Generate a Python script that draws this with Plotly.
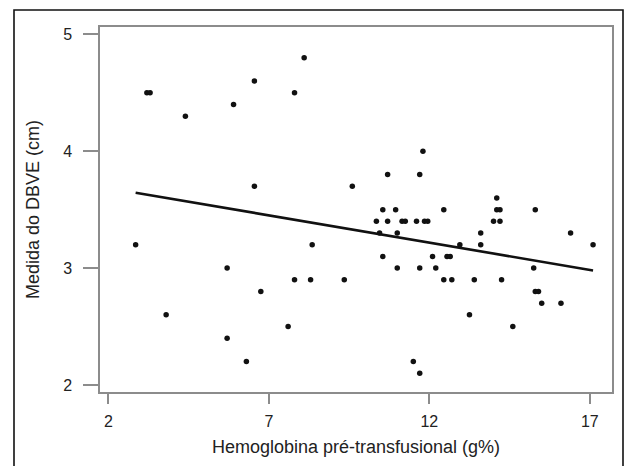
import plotly.graph_objects as go

# Hemoglobina pré-transfusional (g%)
hb = [2.85, 3.2, 3.3, 3.8, 4.4, 5.7, 5.7, 5.9, 6.3, 6.55, 6.55, 6.75, 7.6, 7.8, 7.8,
      8.1, 8.3, 8.35, 9.35, 9.6, 10.35, 10.45, 10.55, 10.55, 10.7, 10.7, 10.95,
      11.0, 11.0, 11.15, 11.25, 11.5, 11.6, 11.7, 11.7, 11.7, 11.8, 11.85, 11.95,
      12.1, 12.2, 12.45, 12.45, 12.55, 12.65, 12.7, 12.95, 13.25, 13.4, 13.6, 13.6,
      14.0, 14.1, 14.1, 14.2, 14.2, 14.25, 14.6, 15.25, 15.3, 15.3, 15.4, 15.5,
      16.1, 16.4, 17.1]
# Medida do DBVE (cm)
dbve = [3.2, 4.5, 4.5, 2.6, 4.3, 3.0, 2.4, 4.4, 2.2, 4.6, 3.7, 2.8, 2.5, 4.5, 2.9,
        4.8, 2.9, 3.2, 2.9, 3.7, 3.4, 3.3, 3.5, 3.1, 3.8, 3.4, 3.5,
        3.3, 3.0, 3.4, 3.4, 2.2, 3.4, 3.8, 3.0, 2.1, 4.0, 3.4, 3.4,
        3.1, 3.0, 3.5, 2.9, 3.1, 3.1, 2.9, 3.2, 2.6, 2.9, 3.3, 3.2,
        3.4, 3.6, 3.5, 3.5, 3.4, 2.9, 2.5, 3.0, 3.5, 2.8, 2.8, 2.7,
        2.7, 3.3, 3.2]

# fitted regression line
fit_x = [2.85, 17.1]
fit_y = [3.645, 2.98]

x_ticks = [2, 7, 12, 17]
y_ticks = [2, 3, 4, 5]

FONT = "Liberation Sans, Arial, sans-serif"
AX = "#8c8c8c"

fig = go.Figure()
fig.add_trace(go.Scatter(x=fit_x, y=fit_y, mode="lines",
                         line=dict(color="#111111", width=2.6), hoverinfo="skip"))
fig.add_trace(go.Scatter(x=hb, y=dbve, mode="markers",
                         marker=dict(color="#111111", size=5.5, symbol="circle")))

L, R, T, B = 100, 16, 27, 74
W, H = 628, 466
pw, ph = W - L - R, H - T - B

fig.update_layout(
    width=W, height=H,
    margin=dict(l=L, r=R, t=T, b=B),
    paper_bgcolor="white", plot_bgcolor="white",
    showlegend=False,
    font=dict(family=FONT, size=15, color="#222222"),
    xaxis=dict(range=[1.74, 17.69], tickvals=x_ticks, showgrid=False, zeroline=False,
               showline=True, mirror=True, linecolor=AX, linewidth=1.5,
               ticks="outside", ticklen=10, tickwidth=1.5, tickcolor=AX,
               ticklabelstandoff=4, tickfont=dict(size=16),
               title=dict(text="Hemoglobina pré-transfusional (g%)", standoff=11)),
    yaxis=dict(range=[1.94, 5.063], tickvals=y_ticks, showgrid=False, zeroline=False,
               showline=True, mirror=True, linecolor=AX, linewidth=1.5,
               ticks="outside", ticklen=15, tickwidth=1.5, tickcolor=AX,
               ticklabelstandoff=8, tickfont=dict(size=16),
               title=dict(text="Medida do DBVE (cm)", standoff=19)),
    shapes=[dict(type="rect", xref="paper", yref="paper", layer="below",
                 x0=(14 - L) / pw, x1=(623 - L) / pw,
                 y0=(H - B - 480) / ph, y1=(H - B - 10) / ph,
                 line=dict(color="#111111", width=1.6))],
)

fig.write_html("out.html")
